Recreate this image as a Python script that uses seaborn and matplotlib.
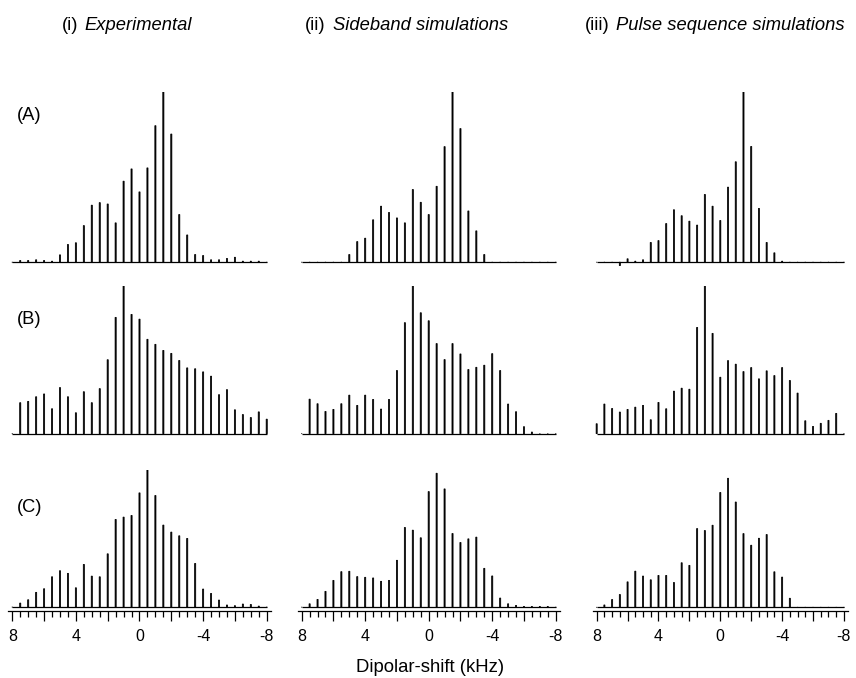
import numpy as np
import pandas as pd
import seaborn as sns
import matplotlib
matplotlib.use("Agg")
import matplotlib.pyplot as plt
from matplotlib.ticker import FixedLocator


# sideband positions (kHz), shared by all nine spectra
sidebands = [8.0, 7.5, 7.0, 6.5, 6.0, 5.5, 5.0, 4.5, 4.0, 3.5, 3.0, 2.5, 2.0,
             1.5, 1.0, 0.5, 0.0, -0.5, -1.0, -1.5, -2.0, -2.5, -3.0, -3.5,
             -4.0, -4.5, -5.0, -5.5, -6.0, -6.5, -7.0, -7.5, -8.0]

# relative intensities (tallest sideband = 100)
a_exp = [0, 1, 1, 1.4, 1, 0.6, 4.3, 10.4, 11.4, 21.5, 33.5, 35, 34.2,
         23.1, 47.6, 54.8, 41.3, 55.4, 80.2, 100, 75.3, 28, 16, 4.5,
         3.9, 1.4, 1.4, 2.2, 2.9, 0.6, 0.6, 0.6, 0]
a_side = [0, 0, 0, 0, 0, 0, 4.5, 12.1, 14.1, 24.9, 32.9, 29.2, 26,
          23.1, 42.7, 35.2, 28, 44.6, 67.9, 100, 78.5, 30.1, 18.4, 4.5,
          0, 0, 0, 0, 0, 0, 0, 0, 0]
a_pulse = [0, 0, 0, -2, 2, 0.6, 1.4, 11.6, 12.7, 22.7, 30.8, 27.3, 24.1,
           21.8, 39.8, 32.9, 24.5, 44.1, 59, 100, 68, 31.6, 11.6, 5.5,
           0.6, 0, 0, 0, 0, 0, 0, 0, 0]

b_exp = [0, 20.9, 21.8, 24.9, 26.8, 16.8, 31.1, 24.9, 14.1, 28.3, 20.9, 30.4, 49.9,
         78.5, 100, 80.5, 77.3, 63.7, 60.3, 56.2, 54.2, 49.4, 44.4, 43.8,
         41.7, 38.8, 26.3, 29.7, 16.1, 12.9, 10.9, 14.7, 9.8]
b_side = [0, 23.3, 20.2, 15, 16.4, 20.2, 26, 19.1, 26, 23.1, 16.6, 23.1, 42.6,
          74.9, 100, 81.6, 76.2, 60.8, 50, 60.8, 53.8, 43.3, 44.8, 46.2,
          54, 42.6, 20, 14.8, 4.7, 1.1, 0, 0, 0]
b_pulse = [6.7, 20, 17, 14.6, 16.4, 17.9, 19.1, 9.4, 21.1, 16.8, 28.7, 30.7, 30,
           71.7, 100, 67.7, 38.1, 49.3, 46.9, 41.9, 44.6, 37, 42.4, 39.2,
           44.6, 35.9, 27.4, 8.7, 4.9, 7, 9, 13.7, 0]

c_exp = [0, 2.9, 5.3, 10.7, 13.3, 22, 26.4, 24.5, 14, 31, 22.5, 22, 38.7,
         63.7, 65.4, 66.6, 83, 100, 81.1, 59.6, 54.5, 51.8, 49.9, 31.7,
         13.1, 9.9, 5.1, 1.5, 1, 2.2, 1.9, 0.7, 0]
c_side = [0, 2.5, 5.8, 11.8, 20, 26.5, 26.8, 22.8, 22.3, 21.8, 19.3, 20, 35,
          59.5, 57.5, 51.8, 86.3, 100, 88.3, 55, 48.3, 51, 52.3, 29,
          23.3, 6.8, 2.5, 1.3, 0.5, 0.5, 0.5, 0.5, 0]
c_pulse = [0, 1.8, 6, 9.9, 19.7, 28, 24.2, 21.3, 24.7, 24.7, 19.2, 34.5, 32.5,
           61, 59.5, 63.6, 89, 100, 81.6, 57.1, 48.1, 53.5, 56.4, 27.5,
           23.4, 7, 0, 0, 0, 0, 0, 0, 0]

spectra = [[a_exp, a_side, a_pulse],
           [b_exp, b_side, b_pulse],
           [c_exp, c_side, c_pulse]]

col_titles = [("(i)", "Experimental"),
              ("(ii)", "Sideband simulations"),
              ("(iii)", "Pulse sequence simulations")]
row_labels = ["(A)", "(B)", "(C)"]
tick_labels = ["8", "", "4", "", "0", "", "-4", "", "-8"]
xlabel = "Dipolar-shift (kHz)"


sns.set_style("white")
plt.rcParams["font.family"] = ["Liberation Sans", "DejaVu Sans"]
plt.rcParams["text.color"] = "black"
plt.rcParams["xtick.color"] = "black"
plt.rcParams["axes.edgecolor"] = "black"

W, H = 856, 678
fig = plt.figure(figsize=(W / 100, H / 100), dpi=100)


def rect(left, top, width, height):
    # pixel box -> figure fraction
    return [left / W, 1 - (top + height) / H, width / W, height / H]


cols = [(8.3, 262.4), (297.7, 262.0), (592.8, 255.0)]
rows = [(92.0, 177.0, -4.0), (285.5, 154.1, -4.0), (469.5, 141.0, -2.5)]
ytops = [[100, 100, 100], [100, 100, 100], [100, 102.8, 106.8]]

major = [8, 6, 4, 2, 0, -2, -4, -6, -8]
minor = [v for v in np.arange(-8, 8.01, 0.5) if v not in major]

for r, (top, height, ybot) in enumerate(rows):
    for c, (left, width) in enumerate(cols):
        ax = fig.add_axes(rect(left, top, width, height))
        df = pd.DataFrame({"shift": sidebands, "intensity": spectra[r][c]})
        sns.barplot(data=df, x="shift", y="intensity", native_scale=True,
                    orient="x", width=0.14, color="black", edgecolor="black",
                    linewidth=0.55, saturation=1, errorbar=None, ax=ax)
        # no pixel snapping, so every stick gets the same width
        for p in ax.patches:
            p.set_snap(False)
        ax.hlines(0, max(sidebands), min(sidebands), color="black", lw=0.9)
        ax.set_xlim(8.25, -8.25)
        ax.set_ylim(ybot, ytops[r][c])
        ax.set_xlabel("")
        ax.set_ylabel("")
        ax.set_yticks([])
        ax.patch.set_visible(False)
        sns.despine(ax=ax, left=True, bottom=(r < 2))
        if r < 2:
            ax.set_xticks([])
        else:
            ax.spines["bottom"].set_linewidth(0.9)
            ax.xaxis.set_major_locator(FixedLocator(major))
            ax.xaxis.set_minor_locator(FixedLocator(minor))
            ax.set_xticklabels(tick_labels)
            ax.tick_params(axis="x", which="major", direction="out",
                           length=7.5, width=0.9, pad=6, labelsize=11.5,
                           bottom=True)
            ax.tick_params(axis="x", which="minor", direction="out",
                           length=4, width=0.9, bottom=True)

# column titles: roman numeral upright, name in italics
title_x = [(62, 84), (305, 333), (585, 616)]
for (num, name), (x0, x1) in zip(col_titles, title_x):
    fig.text(x0 / W, 1 - 25 / H, num, ha="left", va="center", fontsize=13.2)
    fig.text(x1 / W, 1 - 25 / H, name, ha="left", va="center",
             fontsize=13.2, style="italic")

for lab, y in zip(row_labels, [115, 320, 508]):
    fig.text(17 / W, 1 - y / H, lab, ha="left", va="center", fontsize=13.2)

fig.text(430 / W, 1 - 668 / H, xlabel, ha="center", va="center", fontsize=13.3)

fig.savefig("out.png", dpi=100)
